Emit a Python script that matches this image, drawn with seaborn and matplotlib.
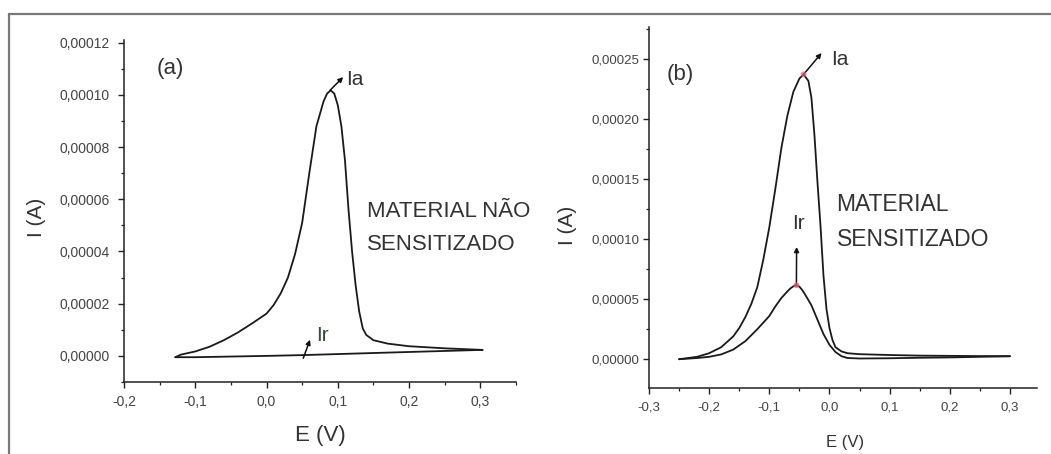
import numpy as np
import pandas as pd
import matplotlib
matplotlib.use("Agg")
import matplotlib.pyplot as plt
import seaborn as sns
from matplotlib.ticker import MultipleLocator, FuncFormatter
from matplotlib.lines import Line2D

# ---------------- data (E in V, I in A) ----------------
# Panel (a): material nao sensitizado
a_fwd_E = [-0.128, -0.12, -0.10, -0.08, -0.06, -0.04, -0.02, 0.00, 0.01, 0.02, 0.03, 0.04,
           0.05, 0.06, 0.07, 0.08, 0.085, 0.09, 0.095, 0.10, 0.105, 0.11, 0.115, 0.12,
           0.125, 0.13, 0.135, 0.14, 0.15, 0.17, 0.20, 0.25, 0.303]
a_fwd_I = [-0.05e-5, 0.05e-5, 0.17e-5, 0.35e-5, 0.6e-5, 0.9e-5, 1.25e-5, 1.62e-5, 1.95e-5,
           2.4e-5, 3.0e-5, 3.9e-5, 5.1e-5, 7.0e-5, 8.8e-5, 9.75e-5, 10.05e-5, 10.17e-5,
           10.05e-5, 9.6e-5, 8.8e-5, 7.5e-5, 5.6e-5, 4.0e-5, 2.7e-5, 1.7e-5, 1.05e-5,
           0.8e-5, 0.6e-5, 0.47e-5, 0.37e-5, 0.29e-5, 0.23e-5]
a_rev_E = [0.303, 0.20, 0.10, 0.05, 0.00, -0.10, -0.128]
a_rev_I = [0.23e-5, 0.15e-5, 0.07e-5, 0.03e-5, 0.0, -0.05e-5, -0.05e-5]

# Panel (b): material sensitizado
b_fwd_E = [-0.25, -0.22, -0.20, -0.18, -0.16, -0.15, -0.14, -0.13, -0.12, -0.11, -0.10,
           -0.09, -0.08, -0.07, -0.06, -0.05, -0.043, -0.035, -0.03, -0.025, -0.02,
           -0.015, -0.01, -0.005, 0.0, 0.005, 0.01, 0.02, 0.03, 0.05, 0.10, 0.15, 0.20,
           0.25, 0.30]
b_fwd_I = [0.0, 0.2e-5, 0.5e-5, 1.0e-5, 1.9e-5, 2.6e-5, 3.5e-5, 4.6e-5, 6.0e-5, 8.3e-5,
           11.0e-5, 14.2e-5, 17.6e-5, 20.3e-5, 22.3e-5, 23.4e-5, 23.75e-5, 23.2e-5,
           21.8e-5, 18.7e-5, 14.8e-5, 11.2e-5, 7.0e-5, 4.2e-5, 2.6e-5, 1.6e-5, 1.0e-5,
           0.65e-5, 0.5e-5, 0.42e-5, 0.35e-5, 0.3e-5, 0.28e-5, 0.26e-5, 0.25e-5]
b_rev_E = [0.30, 0.25, 0.20, 0.15, 0.10, 0.05, 0.03, 0.02, 0.01, 0.0, -0.01, -0.02, -0.03,
           -0.04, -0.045, -0.05, -0.055, -0.06, -0.065, -0.07, -0.08, -0.09, -0.10, -0.12,
           -0.14, -0.16, -0.18, -0.20, -0.22, -0.25]
b_rev_I = [0.25e-5, 0.2e-5, 0.15e-5, 0.12e-5, 0.08e-5, 0.06e-5, 0.1e-5, 0.25e-5, 0.6e-5,
           1.2e-5, 2.1e-5, 3.3e-5, 4.5e-5, 5.35e-5, 5.75e-5, 6.05e-5, 6.17e-5, 6.08e-5,
           5.9e-5, 5.65e-5, 5.1e-5, 4.4e-5, 3.6e-5, 2.5e-5, 1.5e-5, 0.8e-5, 0.4e-5,
           0.2e-5, 0.1e-5, 0.0]

# peaks (for markers / arrows)
a_peak = (0.089, 10.17e-5)
b_peak_a = (-0.043, 23.75e-5)
b_peak_r = (-0.055, 6.17e-5)

x_label = "E (V)"
y_label = "I (A)"

# ---------------- style ----------------
sns.set_theme(style="ticks")
plt.rcParams["font.family"] = ["Liberation Sans", "DejaVu Sans"]
plt.rcParams["axes.linewidth"] = 1.1

fig = plt.figure(figsize=(10.51, 4.54), dpi=100)
ax_a = fig.add_axes([124 / 1051, (454 - 382) / 454, 392 / 1051, 342 / 454])
ax_b = fig.add_axes([649 / 1051, (454 - 388) / 454, 388 / 1051, 361 / 454])

line_kw = dict(color="#1a1a1a", linewidth=1.3, sort=False, estimator=None, legend=False)


def draw(ax, E, I):
    df = pd.DataFrame({"E": E, "I": I})
    sns.lineplot(data=df, x="E", y="I", ax=ax, **line_kw)


draw(ax_a, a_fwd_E, a_fwd_I)
draw(ax_a, a_rev_E, a_rev_I)
draw(ax_b, b_fwd_E, b_fwd_I)
draw(ax_b, b_rev_E, b_rev_I)


def yfmt(v, pos):
    if abs(v) < 1e-12:
        v = 0.0
    return f"{v:.5f}".replace(".", ",")


def xfmt(v, pos):
    if abs(v) < 1e-9:
        v = 0.0
    return f"{v:.1f}".replace(".", ",")


def style_axis(ax, xlim, ylim, ymaj, ymin, fs, xpad, ypad):
    ax.set_xlim(*xlim)
    ax.set_ylim(*ylim)
    ax.xaxis.set_major_locator(MultipleLocator(0.1))
    ax.xaxis.set_minor_locator(MultipleLocator(0.05))
    ax.yaxis.set_major_locator(MultipleLocator(ymaj))
    ax.yaxis.set_minor_locator(MultipleLocator(ymin))
    ax.xaxis.set_major_formatter(FuncFormatter(xfmt))
    ax.yaxis.set_major_formatter(FuncFormatter(yfmt))
    for s in ("top", "right"):
        ax.spines[s].set_visible(False)
    for s in ("left", "bottom"):
        ax.spines[s].set_color("#222222")
    ax.tick_params(which="major", direction="out", length=4, width=1.0, color="#222222",
                   labelsize=fs, labelcolor="#444444")
    ax.tick_params(axis="x", which="major", pad=xpad)
    ax.tick_params(axis="y", which="major", pad=ypad)
    ax.tick_params(which="minor", direction="out", length=2.5, width=0.9, color="#222222")
    ax.set_facecolor("white")


style_axis(ax_a, (-0.2, 0.35), (-0.00001, 0.000121), 0.00002, 0.00001, 10, 5, 6)
style_axis(ax_b, (-0.3, 0.345), (-0.000024, 0.000277), 0.00005, 0.000025, 9.5, 6, 3)

txt = dict(color="#333333", va="center", ha="left")
arrow = dict(arrowstyle="-|>", color="#111111", lw=1.1, mutation_scale=7,
             shrinkA=0, shrinkB=0)

# panel (a) annotations
ax_a.text(-0.154, 11.0e-5, "(a)", fontsize=16, **txt)
ax_a.annotate("", xy=(0.1075, 10.68e-5), xytext=a_peak, arrowprops=arrow)
ax_a.text(0.112, 10.6e-5, "Ia", fontsize=15, **txt)
ax_a.annotate("", xy=(0.061, 0.62e-5), xytext=(0.0515, -0.09e-5), arrowprops=arrow)
ax_a.text(0.069, 0.77e-5, "Ir", fontsize=15, color="#3a4a3a", va="center", ha="left")
ax_a.text(0.1404, 5.53e-5, "MATERIAL NÃO", fontsize=16, **txt)
ax_a.text(0.1404, 4.27e-5, "SENSITIZADO", fontsize=16, **txt)

# panel (b) annotations
ax_b.text(-0.271, 23.75e-5, "(b)", fontsize=16, **txt)
ax_b.annotate("", xy=(-0.0131, 25.53e-5), xytext=b_peak_a, arrowprops=arrow)
ax_b.text(0.002, 25.0e-5, "Ia", fontsize=15, **txt)
ax_b.annotate("", xy=(-0.0546, 9.36e-5), xytext=b_peak_r, arrowprops=arrow)
ax_b.text(-0.062, 11.3e-5, "Ir", fontsize=15, **txt)
ax_b.text(0.0118, 12.9e-5, "MATERIAL", fontsize=16.5, **txt)
ax_b.text(0.0118, 10.0e-5, "SENSITIZADO", fontsize=16.5, **txt)

peaks = pd.DataFrame({"E": [b_peak_a[0], b_peak_r[0]], "I": [b_peak_a[1], b_peak_r[1]]})
sns.scatterplot(data=peaks, x="E", y="I", ax=ax_b, s=18, color="#e0607a", alpha=0.7,
                edgecolor="none", zorder=5, legend=False)

# axis labels (after seaborn calls so they are not overwritten)
ax_a.set_xlabel(x_label, fontsize=16, color="#333333")
ax_a.set_ylabel(y_label, fontsize=15, color="#333333")
ax_a.xaxis.set_label_coords(0.5, -0.125)
ax_a.yaxis.set_label_coords(-0.198, 0.48)
ax_b.set_xlabel(x_label, fontsize=12, color="#333333")
ax_b.set_ylabel(y_label, fontsize=15, color="#333333")
ax_b.xaxis.set_label_coords(0.505, -0.13)
ax_b.yaxis.set_label_coords(-0.185, 0.45)

# outer frame (top and left)
fig.add_artist(Line2D([9 / 1051, 1.0], [1 - 14 / 454, 1 - 14 / 454],
                      transform=fig.transFigure, color="#777777", lw=1.6))
fig.add_artist(Line2D([9 / 1051, 9 / 1051], [0.0, 1 - 14 / 454],
                      transform=fig.transFigure, color="#777777", lw=1.6))

fig.savefig("out.png", dpi=100, facecolor="white")
